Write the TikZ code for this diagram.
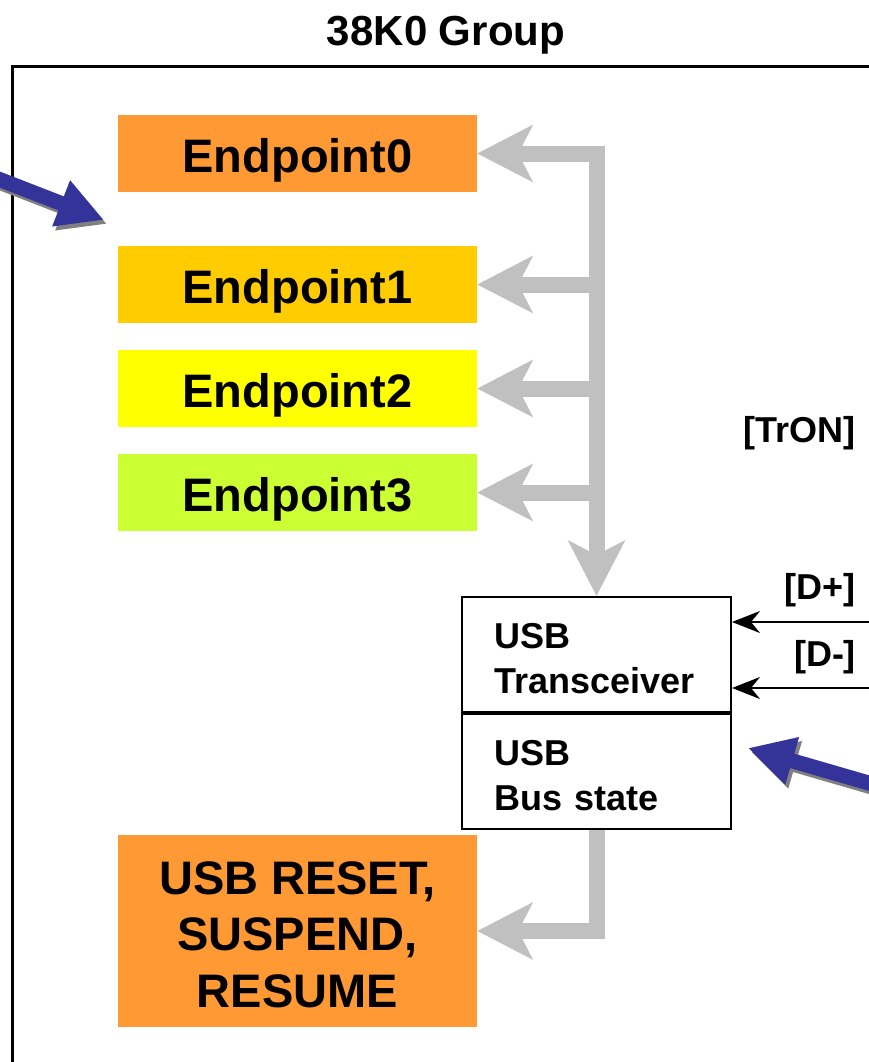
\documentclass[tikz,border=0pt]{standalone}
\usepackage{fontspec}
\setmainfont{Liberation Sans}
\usetikzlibrary{arrows.meta}

\definecolor{epzero}{HTML}{FF9933}
\definecolor{epone}{HTML}{FFCC00}
\definecolor{eptwo}{HTML}{FFFF00}
\definecolor{epthree}{HTML}{CCFF33}
\definecolor{busgray}{HTML}{C0C0C0}
\definecolor{usbblue}{HTML}{333399}

\tikzset{
    bushead/.tip={Stealth[length=55pt,width=56pt,inset=14pt]},
    epbox/.style={minimum width=359pt, minimum height=77pt, inner sep=0pt,
        text height=37pt, text depth=0pt,
        font=\fontsize{47}{56.5}\selectfont\bfseries},
    usbbox/.style={draw, line width=2pt, minimum width=269pt, minimum height=115pt,
        text width=204pt, inner xsep=32.5pt, inner ysep=0pt, align=left,
        font=\fontsize{36}{45}\selectfont\bfseries},
    busarrow/.style={draw=busgray, line width=16pt, -bushead},
    sigarrow/.style={line width=2pt, -{Stealth[length=28pt,width=22pt,inset=9pt]}},
    bluearrow/.style={line width=15pt, -{Triangle[length=46pt,width=46pt]}},
    lbl/.style={font=\fontsize{36}{40}\selectfont\bfseries}
}

\begin{document}
\begin{tikzpicture}[x=1pt,y=-1pt]
    \clip (0,0) rectangle (869,1062);

    \node[font=\fontsize{42}{46}\selectfont\bfseries, text depth=0pt] (title) at (446,31) {38K0 Group};
    \draw[line width=3pt] (12,1070) -- (12,66.5) -- (880,66.5);

\foreach \n/\y/\c in {0/153.5/epzero, 1/284.5/epone, 2/388.5/eptwo, 3/492.5/epthree}{
    \node[epbox, fill=\c] (ep\n) at (297.5,\y) {Endpoint\n};
}

    \node[usbbox] (trx) at (596.5,654.5) {\rule{0pt}{34pt}USB\\Transceiver};
    \node[usbbox, anchor=north] (bus) at (trx.south) {\rule{0pt}{34pt}USB\\Bus state};

    \node[epbox, fill=epzero, minimum height=192pt, text height=] (rst) at (297.5,931)
        {\begin{tabular}[b]{@{}c@{}}USB RESET,\\SUSPEND,\\RESUME\end{tabular}};

    % internal bus
    \draw[busarrow, bushead-bushead] (ep0.east) -- (ep0.east -| trx.north) -- (trx.north);
\foreach \n in {1,2,3}{
    \draw[busarrow] (ep\n.east -| trx.north) -- (ep\n.east);
}
    \draw[busarrow] (bus.south) |- (rst.east);

    % D+ / D- lines
    \coordinate (dp) at (880,622);
    \coordinate (dm) at (880,688);
    \draw[sigarrow] (dp) -- (dp -| trx.east);
    \draw[sigarrow] (dm) -- (dm -| trx.east);
    \node[lbl] (dplbl) at (820,590) {[D+]};
    \node[lbl] (dmlbl) at (825,657) {[D-]};
    \node[lbl] (tron) at (799,433) {[TrON]};

    % blue pointers, shadow first
    \coordinate (inA) at (-20,171.9);
    \coordinate (tipA) at (104,220);
    \coordinate (inB) at (890,789.2);
    \coordinate (tipB) at (748,748);
    \draw[bluearrow, draw=gray, fill=gray] ([shift={(3pt,-4pt)}]inA) -- ([shift={(3pt,-4pt)}]tipA);
    \draw[bluearrow, draw=gray, fill=gray] ([shift={(3pt,-4pt)}]inB) -- ([shift={(3pt,-4pt)}]tipB);
    \draw[bluearrow, draw=usbblue, fill=usbblue] (inA) -- (tipA);
    \draw[bluearrow, draw=usbblue, fill=usbblue] (inB) -- (tipB);
\end{tikzpicture}
\end{document}
